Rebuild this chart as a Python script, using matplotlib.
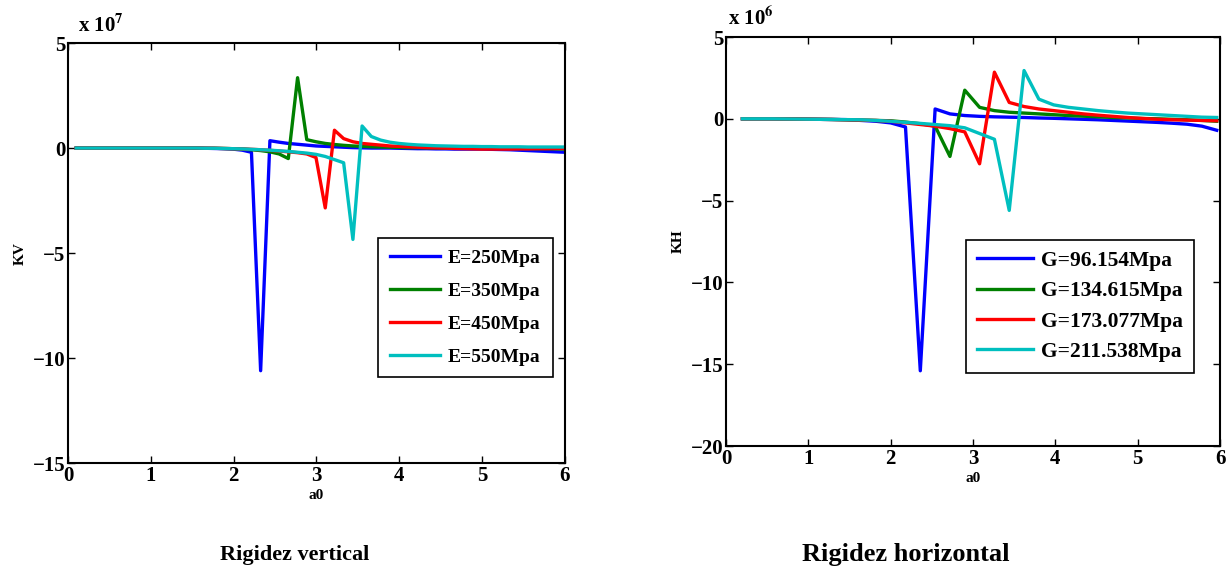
import numpy as np
import matplotlib
matplotlib.use("Agg")
import matplotlib.pyplot as plt

plt.rcParams["font.family"] = ["Liberation Serif", "DejaVu Serif"]
plt.rcParams["font.weight"] = "bold"
plt.rcParams["mathtext.fontset"] = "stix"

# ---- data: vertical stiffness (x 1e7) ----
a0_v = np.round(np.linspace(0.1, 6.0, 54), 3)
kv_labels = ["E=250Mpa", "E=350Mpa", "E=450Mpa", "E=550Mpa"]
kv_250 = [0, 0, 0, 0, 0, 0, 0, 0, 0, 0, 0, 0, 0, 0, -0.01, -0.02, -0.03, -0.05,
          -0.1, -0.2, -10.6, 0.35, 0.28, 0.22, 0.18, 0.14, 0.1, 0.08, 0.06, 0.04,
          0.02, 0.01, 0, 0, 0, -0.01, -0.02, -0.03, -0.03, -0.04, -0.04, -0.05,
          -0.05, -0.05, -0.05, -0.06, -0.07, -0.08, -0.1, -0.12, -0.14, -0.16,
          -0.18, -0.2]
kv_350 = [0, 0, 0, 0, 0, 0, 0, 0, 0, 0, 0, 0, 0, 0, -0.01, -0.01, -0.02, -0.03,
          -0.05, -0.08, -0.12, -0.18, -0.28, -0.5, 3.35, 0.4, 0.3, 0.22, 0.17,
          0.13, 0.1, 0.08, 0.06, 0.05, 0.04, 0.03, 0.02, 0.02, 0.01, 0.01, 0, 0,
          0, 0, 0, 0, -0.01, -0.01, -0.02, -0.02, -0.03, -0.03, -0.04, -0.05]
kv_450 = [0, 0, 0, 0, 0, 0, 0, 0, 0, 0, 0, 0, 0, 0, -0.01, -0.01, -0.02, -0.03,
          -0.04, -0.06, -0.08, -0.11, -0.14, -0.18, -0.22, -0.28, -0.45, -2.85,
          0.85, 0.45, 0.3, 0.22, 0.18, 0.14, 0.1, 0.08, 0.06, 0.04, 0.02, 0.01,
          0, -0.02, -0.03, -0.04, -0.05, -0.05, -0.05, -0.05, -0.04, -0.04,
          -0.03, -0.03, -0.02, -0.02]
kv_550 = [0, 0, 0, 0, 0, 0, 0, 0, 0, 0, 0, 0, 0, 0, -0.01, -0.01, -0.02, -0.03,
          -0.04, -0.06, -0.08, -0.1, -0.13, -0.16, -0.2, -0.24, -0.3, -0.4,
          -0.55, -0.7, -4.35, 1.05, 0.55, 0.38, 0.28, 0.22, 0.18, 0.15, 0.13,
          0.11, 0.1, 0.09, 0.08, 0.08, 0.07, 0.07, 0.06, 0.06, 0.06, 0.05, 0.05,
          0.05, 0.05, 0.05]

# ---- data: horizontal stiffness (x 1e6) ----
a0_h = np.round(0.2 + 0.18 * np.arange(33), 2)
kh_labels = ["G=96.154Mpa", "G=134.615Mpa", "G=173.077Mpa", "G=211.538Mpa"]
kh_96 = [0, 0, 0, -0.01, -0.02, -0.03, -0.04, -0.05, -0.1, -0.15, -0.25, -0.5,
         -15.4, 0.6, 0.3, 0.2, 0.15, 0.12, 0.1, 0.08, 0.05, 0.03, 0.0, -0.03,
         -0.06, -0.1, -0.14, -0.18, -0.22, -0.27, -0.33, -0.45, -0.7]
kh_134 = [0, 0, 0, -0.01, -0.02, -0.03, -0.04, -0.06, -0.08, -0.1, -0.12, -0.2,
          -0.3, -0.45, -2.3, 1.75, 0.7, 0.5, 0.4, 0.35, 0.3, 0.25, 0.2, 0.16,
          0.12, 0.08, 0.05, 0.02, 0.0, -0.03, -0.06, -0.1, -0.15]
kh_173 = [0, 0, 0, -0.01, -0.02, -0.03, -0.04, -0.06, -0.08, -0.1, -0.15, -0.25,
          -0.35, -0.45, -0.6, -0.8, -2.75, 2.85, 1.0, 0.75, 0.6, 0.5, 0.4, 0.3,
          0.22, 0.15, 0.08, 0.02, -0.03, -0.06, -0.08, -0.1, -0.12]
kh_211 = [0, 0, 0, -0.01, -0.02, -0.03, -0.04, -0.05, -0.06, -0.1, -0.15, -0.22,
          -0.28, -0.35, -0.42, -0.55, -0.9, -1.25, -5.6, 2.95, 1.2, 0.85, 0.7,
          0.6, 0.5, 0.42, 0.35, 0.3, 0.25, 0.2, 0.15, 0.1, 0.08]

colors = ["#0000ff", "#008000", "#ff0000", "#00bfbf"]

fig = plt.figure(figsize=(12.29, 5.71), dpi=100)
ax1 = fig.add_axes([0.0553, 0.189, 0.4044, 0.7356])
ax2 = fig.add_axes([0.5907, 0.2189, 0.4020, 0.7163])


def style_axes(ax, ylim, yticks, ylabel, expo, ex_x):
    ax.set_xlim(0, 6)
    ax.set_ylim(*ylim)
    ax.set_xticks(range(7))
    ax.set_yticks(yticks)
    ax.tick_params(direction="in", top=True, right=True, length=5, width=1,
                   labelsize=15, pad=2)
    for lab in ax.get_xticklabels() + ax.get_yticklabels():
        lab.set_fontweight("bold")
    for sp in ax.spines.values():
        sp.set_linewidth(1.5)
    ax.set_xlabel("a0", fontsize=11, fontweight="bold", labelpad=2)
    ax.set_ylabel(ylabel, fontsize=11, fontweight="bold", labelpad=4)
    ax.text(ex_x, 1.015, r"x 10$^{%d}$" % expo, transform=ax.transAxes,
            fontsize=15, ha="left", va="bottom")


for ys, lab, c in zip([kv_250, kv_350, kv_450, kv_550], kv_labels, colors):
    ax1.plot(a0_v, ys, color=c, lw=2.4, label=lab)
style_axes(ax1, (-15, 5), [-15, -10, -5, 0, 5], "KV", 7, 0.02)
leg1 = ax1.legend(loc="upper left", bbox_to_anchor=(0.624, 0.536), fontsize=14,
                  fancybox=False, edgecolor="black", framealpha=1,
                  handlelength=2.6, labelspacing=0.78, borderpad=0.6,
                  handletextpad=0.4, borderaxespad=0)
leg1.get_frame().set_linewidth(1.2)

for ys, lab, c in zip([kh_96, kh_134, kh_173, kh_211], kh_labels, colors):
    ax2.plot(a0_h, ys, color=c, lw=2.4, label=lab)
style_axes(ax2, (-20, 5), [-20, -15, -10, -5, 0, 5], "KH", 6, 0.004)
leg2 = ax2.legend(loc="upper left", bbox_to_anchor=(0.486, 0.504), fontsize=15.5,
                  fancybox=False, edgecolor="black", framealpha=1,
                  handlelength=2.6, labelspacing=0.48, borderpad=0.5,
                  handletextpad=0.4, borderaxespad=0)
leg2.get_frame().set_linewidth(1.2)

fig.text(295 / 1229, 1 - 555 / 571, "Rigidez vertical", ha="center",
         va="center", fontsize=16, fontweight="bold")
fig.text(906 / 1229, 1 - 555 / 571, "Rigidez horizontal", ha="center",
         va="center", fontsize=19, fontweight="bold")

fig.savefig("out.png", dpi=100)
